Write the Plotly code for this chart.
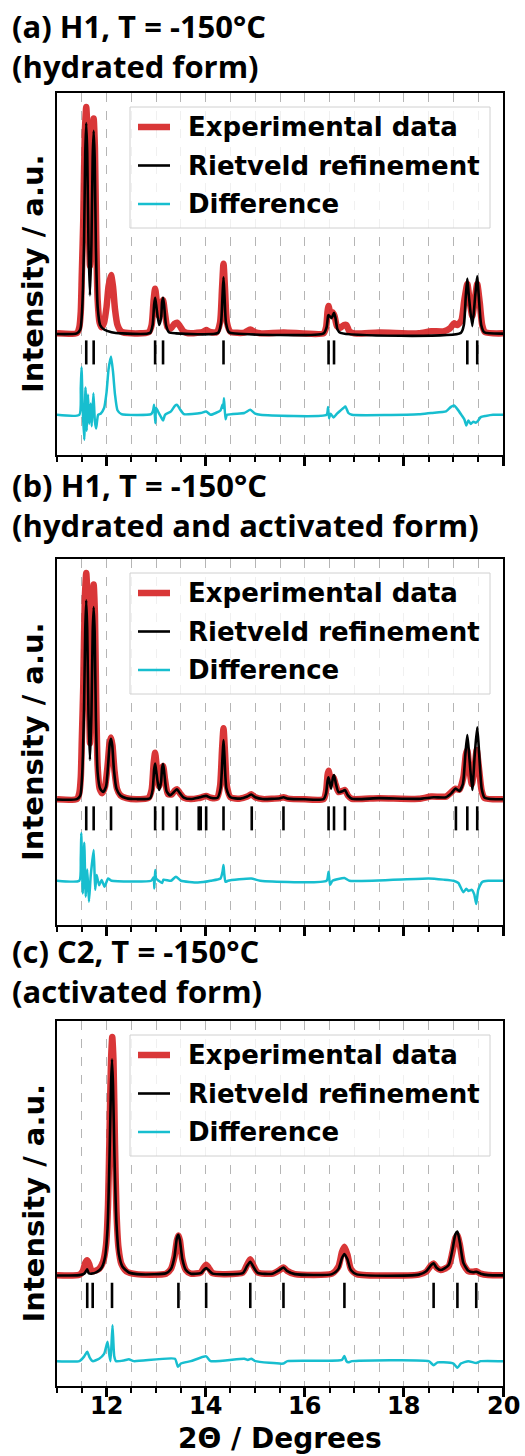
import plotly.graph_objects as go

# ---------------------------------------------------------------------------
# Powder diffraction patterns (2-theta in degrees, intensity normalised so the
# strongest observed reflection is ~1).  Each list holds (2theta, intensity).
# ---------------------------------------------------------------------------

# (a) H1, hydrated form
A_OBS = [(11.00, 0.003), (11.40, 0.004), (11.45, 0.03), (11.48, 0.10), (11.50, 0.26),
         (11.53, 0.50), (11.56, 0.88), (11.59, 1.00), (11.62, 0.86), (11.645, 0.45),
         (11.665, 0.30), (11.69, 0.50), (11.715, 0.85), (11.74, 0.95), (11.765, 0.82),
         (11.79, 0.45), (11.82, 0.15), (11.86, 0.05), (11.90, 0.03), (11.95, 0.05),
         (12.00, 0.12), (12.04, 0.21), (12.09, 0.26), (12.13, 0.21), (12.17, 0.11),
         (12.22, 0.04), (12.30, 0.01), (12.50, 0.003), (12.85, 0.008), (12.91, 0.04),
         (12.95, 0.15), (12.98, 0.20), (13.01, 0.15), (13.06, 0.08), (13.10, 0.12),
         (13.14, 0.15), (13.18, 0.09), (13.23, 0.03), (13.30, 0.025), (13.37, 0.045),
         (13.425, 0.05), (13.48, 0.035), (13.56, 0.01), (13.70, 0.003), (13.95, 0.01),
         (14.01, 0.018), (14.08, 0.01), (14.22, 0.008), (14.29, 0.05), (14.33, 0.20),
         (14.36, 0.31), (14.39, 0.20), (14.43, 0.05), (14.50, 0.01), (14.78, 0.006),
         (14.90, 0.02), (15.00, 0.008), (15.10, 0.003), (15.57, 0.007), (16.38, 0.003),
         (16.43, 0.03), (16.46, 0.10), (16.48, 0.123), (16.52, 0.09), (16.56, 0.095),
         (16.60, 0.08), (16.65, 0.035), (16.72, 0.028), (16.79, 0.04), (16.84, 0.04),
         (16.90, 0.012), (17.00, 0.003), (17.50, 0.007), (18.30, 0.003), (18.55, 0.012),
         (18.80, 0.012), (18.93, 0.025), (19.01, 0.047), (19.08, 0.04), (19.16, 0.06),
         (19.22, 0.15), (19.28, 0.22), (19.33, 0.14), (19.38, 0.08), (19.43, 0.15),
         (19.48, 0.22), (19.53, 0.14), (19.58, 0.04), (19.64, 0.008), (20.00, 0.003)]

A_CALC = [(11.00, 0.0), (11.40, 0.003), (11.47, 0.02), (11.51, 0.12), (11.545, 0.40),
          (11.57, 0.80), (11.59, 0.93), (11.61, 0.80), (11.635, 0.40), (11.665, 0.17),
          (11.695, 0.40), (11.72, 0.78), (11.74, 0.895), (11.76, 0.78), (11.785, 0.38),
          (11.82, 0.12), (11.87, 0.04), (11.95, 0.02), (12.10, 0.008), (12.30, 0.003),
          (12.88, 0.005), (12.93, 0.04), (12.96, 0.13), (12.98, 0.16), (13.00, 0.13),
          (13.06, 0.04), (13.10, 0.07), (13.12, 0.14), (13.14, 0.16), (13.16, 0.13),
          (13.20, 0.04), (13.26, 0.008), (13.40, 0.003), (14.25, 0.005), (14.31, 0.05),
          (14.34, 0.17), (14.36, 0.25), (14.38, 0.17), (14.41, 0.05), (14.47, 0.008),
          (14.60, 0.002), (16.38, 0.003), (16.44, 0.03), (16.47, 0.08), (16.48, 0.084),
          (16.54, 0.07), (16.59, 0.094), (16.62, 0.07), (16.66, 0.02), (16.72, 0.005),
          (19.15, 0.005), (19.21, 0.04), (19.25, 0.17), (19.28, 0.245), (19.31, 0.17),
          (19.38, 0.035), (19.44, 0.17), (19.48, 0.255), (19.51, 0.17), (19.56, 0.04),
          (19.62, 0.008), (20.00, 0.002)]

A_DIFF = [(11.00, 0.0), (11.45, 0.0), (11.48, 0.12), (11.495, 0.21), (11.52, 0.02),
          (11.55, -0.11), (11.575, 0.12), (11.60, -0.07), (11.625, 0.09), (11.65, -0.04),
          (11.68, 0.05), (11.70, -0.05), (11.735, 0.095), (11.765, -0.03), (11.79, -0.06),
          (11.83, 0.0), (11.88, 0.005), (11.95, 0.03), (12.00, 0.10), (12.04, 0.20),
          (12.09, 0.257), (12.13, 0.19), (12.17, 0.09), (12.22, 0.02), (12.30, 0.003),
          (12.90, 0.003), (12.94, 0.02), (12.96, 0.044), (12.985, -0.037), (13.00, 0.03),
          (13.05, 0.01), (13.10, -0.01), (13.14, -0.025), (13.18, 0.0), (13.30, 0.015),
          (13.38, 0.04), (13.425, 0.044), (13.48, 0.025), (13.56, 0.003), (13.90, 0.008),
          (14.01, 0.015), (14.10, 0.0), (14.30, 0.02), (14.34, 0.045), (14.355, 0.03),
          (14.37, 0.073), (14.40, -0.02), (14.43, 0.0), (14.78, 0.008), (14.90, 0.022),
          (15.00, 0.005), (15.10, 0.0), (16.44, 0.0), (16.47, 0.034), (16.49, -0.015),
          (16.52, 0.005), (16.58, -0.012), (16.65, 0.005), (16.78, 0.03), (16.82, 0.037),
          (16.88, 0.008), (16.95, 0.0), (18.30, 0.002), (18.55, 0.008), (18.85, 0.015),
          (18.95, 0.035), (19.01, 0.041), (19.08, 0.025), (19.16, 0.0), (19.22, -0.02),
          (19.26, -0.047), (19.30, -0.025), (19.35, -0.04), (19.40, -0.03), (19.45, -0.035),
          (19.50, -0.025), (19.55, -0.01), (19.65, -0.005), (19.80, 0.0), (20.00, 0.0)]

A_REFL = [11.59, 11.74, 12.98, 13.14, 14.36, 16.48, 16.59, 19.28, 19.48]

# (b) H1, hydrated and activated form
B_OBS = [(11.00, 0.003), (11.40, 0.004), (11.45, 0.03), (11.48, 0.10), (11.50, 0.26),
         (11.53, 0.50), (11.56, 0.88), (11.59, 1.00), (11.62, 0.86), (11.645, 0.45),
         (11.665, 0.25), (11.69, 0.50), (11.715, 0.85), (11.74, 0.95), (11.765, 0.82),
         (11.79, 0.45), (11.82, 0.15), (11.86, 0.05), (11.91, 0.03), (11.97, 0.06),
         (12.02, 0.15), (12.06, 0.25), (12.09, 0.275), (12.12, 0.24), (12.16, 0.13),
         (12.21, 0.05), (12.28, 0.02), (12.40, 0.008), (12.60, 0.003), (12.85, 0.01),
         (12.91, 0.045), (12.95, 0.16), (12.98, 0.208), (13.01, 0.15), (13.06, 0.06),
         (13.10, 0.13), (13.14, 0.15), (13.18, 0.09), (13.24, 0.025), (13.32, 0.025),
         (13.38, 0.042), (13.425, 0.047), (13.48, 0.03), (13.56, 0.01), (13.70, 0.004),
         (13.85, 0.008), (13.92, 0.012), (14.01, 0.018), (14.10, 0.01), (14.23, 0.01),
         (14.29, 0.06), (14.33, 0.22), (14.36, 0.316), (14.39, 0.21), (14.43, 0.06),
         (14.50, 0.012), (14.70, 0.006), (14.84, 0.015), (14.92, 0.025), (15.00, 0.012),
         (15.15, 0.004), (15.50, 0.008), (15.57, 0.012), (15.66, 0.006), (16.00, 0.003),
         (16.38, 0.004), (16.43, 0.04), (16.46, 0.11), (16.48, 0.129), (16.53, 0.09),
         (16.58, 0.10), (16.62, 0.07), (16.68, 0.035), (16.76, 0.04), (16.81, 0.044),
         (16.87, 0.02), (16.95, 0.005), (17.50, 0.008), (18.30, 0.005), (18.55, 0.015),
         (18.85, 0.015), (18.96, 0.035), (19.04, 0.05), (19.12, 0.045), (19.20, 0.10),
         (19.25, 0.20), (19.28, 0.22), (19.31, 0.16), (19.37, 0.07), (19.43, 0.15),
         (19.47, 0.22), (19.51, 0.15), (19.57, 0.04), (19.63, 0.008), (20.00, 0.003)]

B_CALC = [(11.00, 0.002), (11.40, 0.004), (11.47, 0.02), (11.51, 0.12), (11.545, 0.40),
          (11.57, 0.75), (11.59, 0.88), (11.61, 0.75), (11.635, 0.38), (11.665, 0.176),
          (11.695, 0.38), (11.72, 0.74), (11.74, 0.85), (11.76, 0.74), (11.785, 0.36),
          (11.82, 0.12), (11.87, 0.05), (11.93, 0.035), (11.99, 0.06), (12.03, 0.15),
          (12.065, 0.25), (12.09, 0.27), (12.115, 0.24), (12.15, 0.13), (12.20, 0.05),
          (12.28, 0.02), (12.40, 0.008), (12.60, 0.004), (12.88, 0.008), (12.93, 0.045),
          (12.96, 0.135), (12.98, 0.161), (13.00, 0.13), (13.06, 0.044), (13.10, 0.08),
          (13.12, 0.14), (13.14, 0.158), (13.16, 0.13), (13.21, 0.04), (13.28, 0.02),
          (13.36, 0.035), (13.42, 0.047), (13.48, 0.03), (13.56, 0.01), (13.70, 0.004),
          (13.85, 0.01), (13.92, 0.014), (14.01, 0.018), (14.10, 0.01), (14.24, 0.01),
          (14.30, 0.05), (14.34, 0.19), (14.36, 0.264), (14.38, 0.19), (14.42, 0.05),
          (14.50, 0.012), (14.70, 0.006), (14.84, 0.015), (14.92, 0.024), (15.00, 0.012),
          (15.15, 0.004), (15.50, 0.008), (15.57, 0.012), (15.66, 0.006), (16.00, 0.003),
          (16.38, 0.004), (16.43, 0.03), (16.46, 0.085), (16.48, 0.10), (16.53, 0.05),
          (16.57, 0.10), (16.59, 0.11), (16.63, 0.07), (16.68, 0.035), (16.76, 0.038),
          (16.81, 0.044), (16.87, 0.02), (16.95, 0.005), (17.50, 0.008), (18.30, 0.005),
          (18.60, 0.012), (18.85, 0.012), (18.96, 0.03), (19.04, 0.05), (19.12, 0.04),
          (19.19, 0.07), (19.24, 0.20), (19.28, 0.286), (19.32, 0.19), (19.38, 0.044),
          (19.43, 0.20), (19.48, 0.32), (19.52, 0.20), (19.57, 0.05), (19.63, 0.01),
          (20.00, 0.003)]

B_DIFF = [(11.00, 0.0), (11.45, 0.0), (11.48, 0.10), (11.49, 0.21), (11.52, -0.056),
          (11.55, 0.167), (11.58, -0.07), (11.61, 0.05), (11.645, -0.092), (11.68, 0.02),
          (11.74, 0.135), (11.77, -0.04), (11.80, 0.025), (11.85, -0.02), (11.90, 0.003),
          (11.96, -0.026), (12.03, 0.01), (12.10, 0.0), (12.90, 0.0), (12.95, 0.015),
          (12.965, -0.034), (12.98, 0.047), (13.00, 0.01), (13.05, 0.0), (13.12, -0.01),
          (13.15, 0.005), (13.30, 0.0), (13.40, 0.018), (13.50, 0.0), (13.84, -0.008),
          (13.95, -0.006), (14.10, 0.0), (14.30, 0.01), (14.34, 0.04), (14.36, 0.069),
          (14.375, 0.03), (14.40, -0.005), (14.45, 0.0), (14.92, 0.01), (15.10, 0.0),
          (16.44, 0.0), (16.48, 0.04), (16.51, -0.018), (16.56, 0.0), (16.80, 0.012),
          (16.90, 0.0), (18.50, 0.01), (18.80, 0.005), (19.00, 0.0), (19.10, -0.01),
          (19.20, -0.051), (19.26, -0.035), (19.30, -0.045), (19.37, -0.04), (19.42, -0.06),
          (19.46, -0.103), (19.50, -0.04), (19.58, -0.005), (19.70, 0.0), (20.00, 0.0)]

B_REFL = [11.59, 11.74, 12.09, 12.98, 13.14, 13.42, 13.86, 13.90, 14.01, 14.36,
          14.93, 15.57, 16.48, 16.59, 16.81, 19.05, 19.28, 19.48]

# (c) C2, activated form
C_OBS = [(11.00, 0.003), (11.45, 0.005), (11.52, 0.02), (11.57, 0.055), (11.61, 0.066),
         (11.65, 0.05), (11.69, 0.025), (11.74, 0.02), (11.85, 0.03), (11.93, 0.06),
         (11.99, 0.13), (12.03, 0.30), (12.06, 0.60), (12.09, 0.90), (12.115, 1.00),
         (12.14, 0.90), (12.17, 0.55), (12.20, 0.27), (12.24, 0.12), (12.30, 0.05),
         (12.40, 0.02), (12.60, 0.008), (13.20, 0.01), (13.30, 0.03), (13.37, 0.08),
         (13.42, 0.15), (13.45, 0.17), (13.48, 0.15), (13.53, 0.07), (13.60, 0.025),
         (13.70, 0.01), (13.90, 0.015), (13.96, 0.035), (14.01, 0.047), (14.06, 0.035),
         (14.14, 0.012), (14.40, 0.008), (14.75, 0.015), (14.83, 0.045), (14.90, 0.07),
         (14.96, 0.045), (15.05, 0.015), (15.35, 0.01), (15.49, 0.025), (15.57, 0.036),
         (15.64, 0.022), (15.80, 0.008), (16.55, 0.01), (16.68, 0.04), (16.75, 0.10),
         (16.80, 0.123), (16.86, 0.09), (16.93, 0.03), (17.05, 0.008), (18.30, 0.006),
         (18.45, 0.018), (18.55, 0.045), (18.60, 0.053), (18.66, 0.035), (18.74, 0.025),
         (18.90, 0.04), (18.98, 0.10), (19.04, 0.16), (19.08, 0.17), (19.13, 0.13),
         (19.20, 0.05), (19.30, 0.02), (19.40, 0.018), (19.46, 0.02), (19.55, 0.01),
         (19.70, 0.004), (20.00, 0.003)]

C_CALC = [(11.00, 0.002), (11.45, 0.004), (11.55, 0.01), (11.60, 0.025), (11.61, 0.028),
          (11.64, 0.012), (11.70, 0.01), (11.80, 0.016), (11.90, 0.035), (11.97, 0.08),
          (12.02, 0.20), (12.06, 0.50), (12.09, 0.80), (12.11, 0.907), (12.13, 0.80),
          (12.16, 0.50), (12.20, 0.22), (12.25, 0.09), (12.32, 0.04), (12.45, 0.015),
          (12.70, 0.007), (13.20, 0.012), (13.30, 0.03), (13.37, 0.08), (13.42, 0.16),
          (13.45, 0.173), (13.48, 0.15), (13.53, 0.07), (13.60, 0.025), (13.70, 0.01),
          (13.90, 0.012), (13.96, 0.025), (14.01, 0.033), (14.06, 0.025), (14.14, 0.01),
          (14.40, 0.007), (14.75, 0.012), (14.83, 0.04), (14.90, 0.06), (14.96, 0.04),
          (15.05, 0.013), (15.35, 0.01), (15.49, 0.025), (15.57, 0.036), (15.64, 0.022),
          (15.80, 0.008), (16.55, 0.008), (16.68, 0.03), (16.75, 0.075), (16.80, 0.092),
          (16.86, 0.07), (16.93, 0.025), (17.05, 0.007), (18.30, 0.006), (18.45, 0.02),
          (18.55, 0.046), (18.60, 0.053), (18.66, 0.035), (18.74, 0.025), (18.90, 0.045),
          (18.98, 0.11), (19.04, 0.175), (19.08, 0.186), (19.13, 0.14), (19.20, 0.055),
          (19.30, 0.022), (19.40, 0.016), (19.46, 0.018), (19.55, 0.01), (19.70, 0.004),
          (20.00, 0.003)]

C_DIFF = [(11.00, 0.0), (11.45, 0.0), (11.55, 0.02), (11.61, 0.039), (11.66, 0.015),
          (11.72, 0.0), (11.85, 0.01), (11.95, 0.03), (12.02, 0.081), (12.06, 0.02),
          (12.08, 0.0), (12.12, 0.15), (12.155, 0.02), (12.19, 0.0), (12.35, 0.003),
          (12.45, 0.008), (12.55, 0.0), (13.38, 0.01), (13.44, -0.024), (13.50, -0.01),
          (13.70, 0.0), (14.01, 0.02), (14.10, 0.0), (14.78, 0.01), (14.85, 0.005),
          (14.92, 0.01), (15.00, 0.0), (15.57, -0.01), (15.65, 0.0), (16.75, 0.005),
          (16.80, 0.022), (16.84, 0.0), (16.88, -0.005), (16.95, 0.0), (18.50, 0.0),
          (18.60, -0.017), (18.68, -0.005), (18.80, -0.005), (19.00, -0.01), (19.08, -0.028),
          (19.15, -0.01), (19.30, 0.0), (19.46, -0.008), (19.55, 0.0), (20.00, 0.0)]

C_REFL = [11.61, 11.72, 12.11, 13.45, 14.01, 14.90, 15.57, 16.80, 18.60, 19.08, 19.46]

TITLES = [("(a) H1, T = -150°C", "(hydrated form)"),
          ("(b) H1, T = -150°C", "(hydrated and activated form)"),
          ("(c) C2, T = -150°C", "(activated form)")]
LEGEND_LABELS = ["Experimental data", "Rietveld refinement", "Difference"]
X_TICKS = [12, 14, 16, 18, 20]

# ---------------------------------------------------------------------------
W, H = 525, 1456
RED, BLACK, CYAN = "#d62728", "#000000", "#17becf"
DIFF_OFFSET = -0.356
TICK_TOP, TICK_BOTTOM = -0.028, -0.134

# panel geometry in pixels: (top, bottom, y-range)
PANELS = [(93, 455, (-0.533, 1.062)),
          (559, 925, (-0.551, 1.062)),
          (1021, 1386, (-0.460, 1.067))]
TITLE_BOTTOM = [88, 547, 1013]
X_LEFT, X_RIGHT = 57, 503


def px(x):
    return x / W


def py(y):
    return 1 - y / H


def split(points, offset=0.0):
    return [p[0] for p in points], [p[1] + offset for p in points]


def tick_segments(positions):
    xs, ys = [], []
    for p in positions:
        xs += [p, p, None]
        ys += [TICK_TOP, TICK_BOTTOM, None]
    return xs, ys


fig = go.Figure()
datasets = [(A_OBS, A_CALC, A_DIFF, A_REFL),
            (B_OBS, B_CALC, B_DIFF, B_REFL),
            (C_OBS, C_CALC, C_DIFF, C_REFL)]

bold = dict(family="DejaVu Sans", weight="bold", color="black")
grid_style = dict(showgrid=True, gridcolor="#b5b5b5", gridwidth=1, griddash="dash")

for i, (obs, calc, diff, refl) in enumerate(datasets):
    n = "" if i == 0 else str(i + 1)
    xa, ya = "x" + n, "y" + n
    top, bottom, yr = PANELS[i]

    ox, oy = split(obs)
    fig.add_trace(go.Scatter(x=ox, y=oy, xaxis=xa, yaxis=ya, mode="lines",
                             line=dict(color=RED, width=6.5, shape="spline", smoothing=0.6),
                             opacity=0.92, showlegend=False, hoverinfo="skip"))
    cx, cy = split(calc)
    fig.add_trace(go.Scatter(x=cx, y=cy, xaxis=xa, yaxis=ya, mode="lines",
                             line=dict(color=BLACK, width=2.6, shape="spline", smoothing=0.6),
                             showlegend=False, hoverinfo="skip"))
    tx, ty = tick_segments(refl)
    fig.add_trace(go.Scatter(x=tx, y=ty, xaxis=xa, yaxis=ya, mode="lines",
                             line=dict(color=BLACK, width=2.6),
                             showlegend=False, hoverinfo="skip"))
    dx, dy = split(diff, DIFF_OFFSET)
    fig.add_trace(go.Scatter(x=dx, y=dy, xaxis=xa, yaxis=ya, mode="lines",
                             line=dict(color=CYAN, width=2.5, shape="spline", smoothing=0.5),
                             showlegend=False, hoverinfo="skip"))

    fig.update_layout(**{
        "xaxis" + n: dict(
            domain=[px(X_LEFT), px(X_RIGHT)], anchor=ya, range=[11, 20], automargin=False,
            tickmode="array", tickvals=X_TICKS, showticklabels=False,
            ticks="outside", ticklen=9, tickwidth=3, tickcolor="black",
            showline=True, mirror=True, linecolor="black", linewidth=2,
            zeroline=False, **grid_style,
            minor=dict(tickmode="linear", tick0=11, dtick=0.5, ticks="outside",
                       ticklen=5, tickwidth=2, tickcolor="black", **grid_style),
        ),
        "yaxis" + n: dict(
            domain=[py(bottom), py(top)], anchor=xa, range=list(yr), automargin=False,
            showticklabels=False, ticks="", showgrid=False, zeroline=False,
            showline=True, mirror=True, linecolor="black", linewidth=2,
        ),
    })

    # two-line panel heading
    l1, l2 = TITLES[i]
    fig.add_annotation(text=l1 + "<br>" + l2, x=px(11), y=py(TITLE_BOTTOM[i]),
                       xref="paper", yref="paper", xanchor="left", yanchor="bottom",
                       align="left", showarrow=False, borderpad=0,
                       font=dict(family="Open Sans", size=31, weight="bold", color="black"))

    # y axis label
    fig.add_annotation(text="Intensity / a.u.", x=px(33), y=py((top + bottom) / 2),
                       xref="paper", yref="paper", textangle=-90, showarrow=False,
                       xanchor="center", yanchor="middle", font=dict(size=29, **bold))

    # legend box
    fig.add_shape(type="rect", xref="paper", yref="paper", layer="above",
                  x0=px(130), x1=px(490), y0=py(top + 135), y1=py(top + 14),
                  fillcolor="rgba(255,255,255,0.8)", line=dict(color="#d0d0d0", width=1))
    samples = [(RED, 6.5, 0.92), (BLACK, 2.6, 1.0), (CYAN, 2.5, 1.0)]
    for k, (lab, (col, lw, op)) in enumerate(zip(LEGEND_LABELS, samples)):
        yy = top + 34 + 38.5 * k
        fig.add_shape(type="line", xref="paper", yref="paper", layer="above",
                      x0=px(138), x1=px(170), y0=py(yy), y1=py(yy), opacity=op,
                      line=dict(color=col, width=lw))
        fig.add_annotation(text=lab, x=px(186), y=py(yy), xref="paper", yref="paper",
                           xanchor="left", yanchor="middle", showarrow=False,
                           font=dict(size=26, **bold))

# tick labels of the shared 2-theta scale under the bottom panel
for t in X_TICKS:
    fig.add_annotation(text=str(t), x=t, xref="x3", y=py(1391), yref="paper",
                       xanchor="center", yanchor="top", showarrow=False, borderpad=0,
                       font=dict(size=24, **bold))

# x axis title
fig.add_annotation(text="2Θ / Degrees", x=px((X_LEFT + X_RIGHT) / 2), y=py(1456),
                   xref="paper", yref="paper", xanchor="center", yanchor="bottom",
                   showarrow=False, borderpad=0, font=dict(size=28, **bold))

fig.update_layout(width=W, height=H, margin=dict(l=0, r=0, t=0, b=0),
                  paper_bgcolor="white", plot_bgcolor="white", showlegend=False)

fig.write_html("out.html")
